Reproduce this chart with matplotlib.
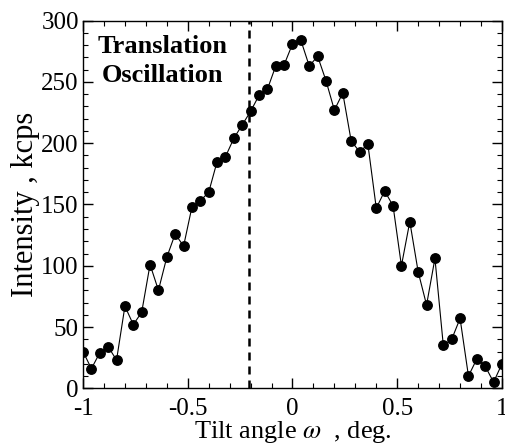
import matplotlib
matplotlib.use("Agg")
import matplotlib.pyplot as plt
import numpy as np

plt.rcParams['font.family'] = ['Liberation Serif', 'DejaVu Serif']
plt.rcParams['mathtext.fontset'] = 'stix'

tilt = [-1.00, -0.96, -0.92, -0.88, -0.84, -0.80, -0.76, -0.72, -0.68, -0.64,
        -0.60, -0.56, -0.52, -0.48, -0.44, -0.40, -0.36, -0.32, -0.28, -0.24,
        -0.20, -0.16, -0.12, -0.08, -0.04, 0.00, 0.04, 0.08, 0.12, 0.16,
        0.20, 0.24, 0.28, 0.32, 0.36, 0.40, 0.44, 0.48, 0.52, 0.56,
        0.60, 0.64, 0.68, 0.72, 0.76, 0.80, 0.84, 0.88, 0.92, 0.96, 1.00]
intensity = [30, 16, 29, 34, 23, 67, 52, 62, 101, 80,
             107, 126, 116, 148, 153, 160, 185, 189, 204, 215,
             226, 239, 244, 263, 264, 281, 284, 263, 271, 251,
             227, 241, 202, 193, 199, 147, 161, 149, 100, 136,
             95, 68, 106, 35, 40, 57, 10, 24, 18, 5, 20]
marker_line_x = -0.21
annotation = "Translation\nOscillation"
xlabel = "Tilt angle $\\omega$  , deg."
ylabel = "Intensity , kcps"

fig = plt.figure(figsize=(5.05, 4.45), dpi=100)
ax = fig.add_axes([0.1644, 0.1274, 0.8296, 0.8261])

ax.plot(tilt, intensity, color='black', linewidth=0.8, marker='o',
        markersize=6.8, markerfacecolor='black', markeredgecolor='black')
ax.axvline(marker_line_x, color='black', linewidth=1.8, dashes=(3.2, 2.4))

ax.set_xlim(-1, 1)
ax.set_ylim(0, 300)
ax.set_xticks([-1, -0.5, 0, 0.5, 1])
ax.set_xticklabels(['-1', '-0.5', '0', '0.5', '1'])
ax.set_yticks([0, 50, 100, 150, 200, 250, 300])
ax.set_xticks(np.arange(-1, 1.001, 0.1), minor=True)
ax.set_yticks(np.arange(0, 301, 10), minor=True)
ax.tick_params(which='both', direction='in', top=True, right=True,
               labelsize=18)
ax.tick_params(axis='x', which='major', pad=7)
ax.tick_params(axis='y', which='major', pad=3)
ax.tick_params(which='major', length=7, width=1.0)
ax.tick_params(which='minor', length=3.5, width=0.8)
for s in ax.spines.values():
    s.set_linewidth(1.0)

ax.text(-0.62, 267, annotation, ha='center', va='center', fontsize=19,
        fontweight='bold', linespacing=1.35)

ax.set_xlabel(xlabel, fontsize=19, labelpad=-1)
ax.set_ylabel(ylabel, fontsize=22, labelpad=1)

fig.savefig("out.png", dpi=100)
